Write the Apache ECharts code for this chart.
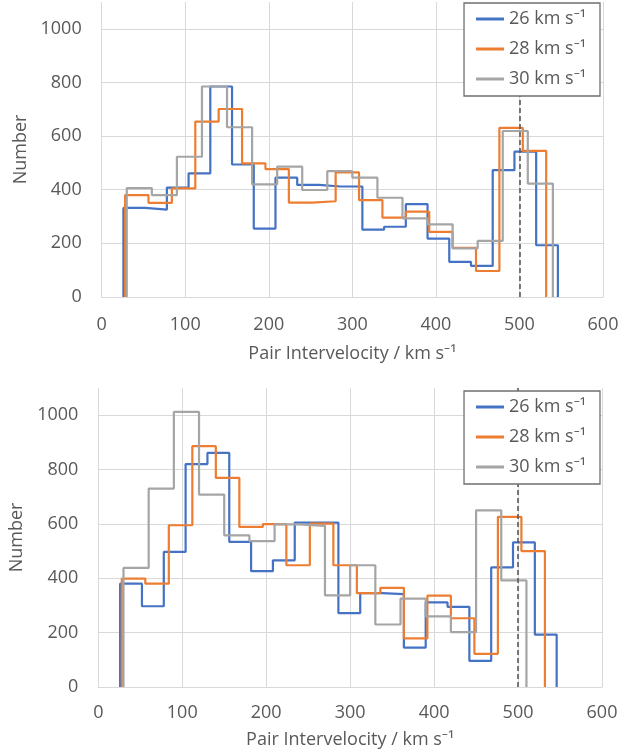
<!DOCTYPE html>
<html>
<head>
<meta charset="utf-8">
<script src="https://cdn.jsdelivr.net/npm/echarts@6/dist/echarts.min.js"></script>
<style>html,body{margin:0;padding:0;background:#fff}#c{width:635px;height:754px}</style>
</head>
<body>
<div id="c"></div>
<script>
// Histogram bin definitions (start, width) per bin-width series
const seriesNames = ['26 km s\u207B\u00B9', '28 km s\u207B\u00B9', '30 km s\u207B\u00B9'];
const binStarts = [26, 28, 30];
const binWidths = [26, 28, 30];

// Top panel counts
const topBlue   = [332, 326, 408, 461, 785, 494, 255, 445, 418, 412, 412, 251, 262, 346, 218, 131, 116, 473, 542, 193];
const topOrange = [380, 351, 405, 654, 701, 498, 477, 352, 357, 465, 361, 296, 318, 243, 183, 97, 631, 545];
const topGray   = [406, 380, 523, 785, 633, 420, 486, 399, 469, 445, 370, 293, 271, 181, 209, 619, 423];

// Bottom panel counts
const botBlue   = [380, 297, 497, 820, 861, 534, 426, 466, 605, 605, 272, 345, 342, 145, 311, 295, 96, 440, 532, 193];
const botOrange = [399, 380, 595, 886, 769, 589, 599, 448, 601, 448, 345, 365, 179, 336, 253, 122, 626, 500];
const botGray   = [438, 730, 1012, 708, 558, 537, 598, 593, 337, 448, 230, 325, 260, 202, 650, 392];

const xTicks = [0, 100, 200, 300, 400, 500, 600];
const yTicks = [0, 200, 400, 600, 800, 1000];
const refLine = 500;

const colors = ['#4472C4', '#ED7D31', '#A5A5A5'];
const FONT = '"Open Sans", "Noto Sans", sans-serif';
const txt = '#595959';

function stepData(start, width, counts) {
  const d = [[start, 0]];
  counts.forEach((v, i) => d.push([start + i * width, v]));
  d.push([start + counts.length * width, 0]);
  return d;
}

const panels = [[topBlue, topOrange, topGray], [botBlue, botOrange, botGray]];

const grids = [
  {left: 101.7, right: 32, top: 2, height: 295},
  {left: 98.3, right: 33, top: 388, height: 299}
];

const xAxes = grids.map((g, i) => ({
  type: 'value', gridIndex: i, min: xTicks[0], max: xTicks[xTicks.length - 1], interval: 100,
  name: 'Pair Intervelocity / km s\u207B\u00B9', nameLocation: 'middle', nameGap: i === 0 ? 48 : 44,
  nameTextStyle: {color: txt, fontSize: 18, fontFamily: FONT},
  axisLine: {show: true, lineStyle: {color: '#d9d9d9', width: 1}},
  axisTick: {show: false},
  axisLabel: {color: txt, fontSize: 18, fontFamily: FONT, margin: i === 0 ? 19 : 17,
    formatter: v => String(v)},
  splitLine: {show: true, lineStyle: {color: '#d9d9d9', width: 1}}
}));

const yAxes = grids.map((g, i) => ({
  type: 'value', gridIndex: i, min: 0, max: 1100, interval: 200,
  name: 'Number', nameLocation: 'middle', nameGap: i === 0 ? 63 : 60,
  nameTextStyle: {color: txt, fontSize: 18, fontFamily: FONT},
  axisLine: {show: false}, axisTick: {show: false},
  axisLabel: {color: txt, fontSize: 18, fontFamily: FONT, margin: 20, showMaxLabel: false,
    formatter: v => (yTicks.indexOf(v) >= 0 ? String(v) : '')},
  splitLine: {show: true, showMaxLine: false, lineStyle: {color: '#d9d9d9', width: 1}}
}));

const series = [];
panels.forEach((p, pi) => {
  p.forEach((counts, si) => {
    const s = {
      name: seriesNames[si], type: 'line', step: 'end',
      xAxisIndex: pi, yAxisIndex: pi,
      data: stepData(binStarts[si], binWidths[si], counts),
      symbol: 'none', showSymbol: false,
      lineStyle: {color: colors[si], width: 2.2},
      itemStyle: {color: colors[si]},
      animation: false, z: 2 + si
    };
    if (si === 2) {
      s.markLine = {
        silent: true, symbol: ['none', 'none'], animation: false,
        label: {show: false},
        lineStyle: {color: '#595959', type: [5, 3], width: 1.6},
        data: [[{coord: [refLine, 0]}, {coord: [refLine, 1100]}]]
      };
    }
    series.push(s);
  });
});

const legends = [
  {top: 3, right: 35},
  {top: 391, right: 35}
].map(pos => Object.assign({
  orient: 'vertical', data: seriesNames, itemGap: 10,
  itemWidth: 28, itemHeight: 3, icon: 'rect',
  padding: [6, 14, 7, 12],
  backgroundColor: '#fff', borderColor: '#6f6f6f', borderWidth: 1.3,
  textStyle: {color: txt, fontSize: 18, fontFamily: FONT, lineHeight: 20},
  selectedMode: false, z: 10
}, pos));

const chart = echarts.init(document.getElementById('c'), null, {renderer: 'canvas'});
chart.setOption({
  animation: false,
  backgroundColor: '#fff',
  grid: grids,
  xAxis: xAxes,
  yAxis: yAxes,
  legend: legends,
  series: series
});
</script>
</body>
</html>
